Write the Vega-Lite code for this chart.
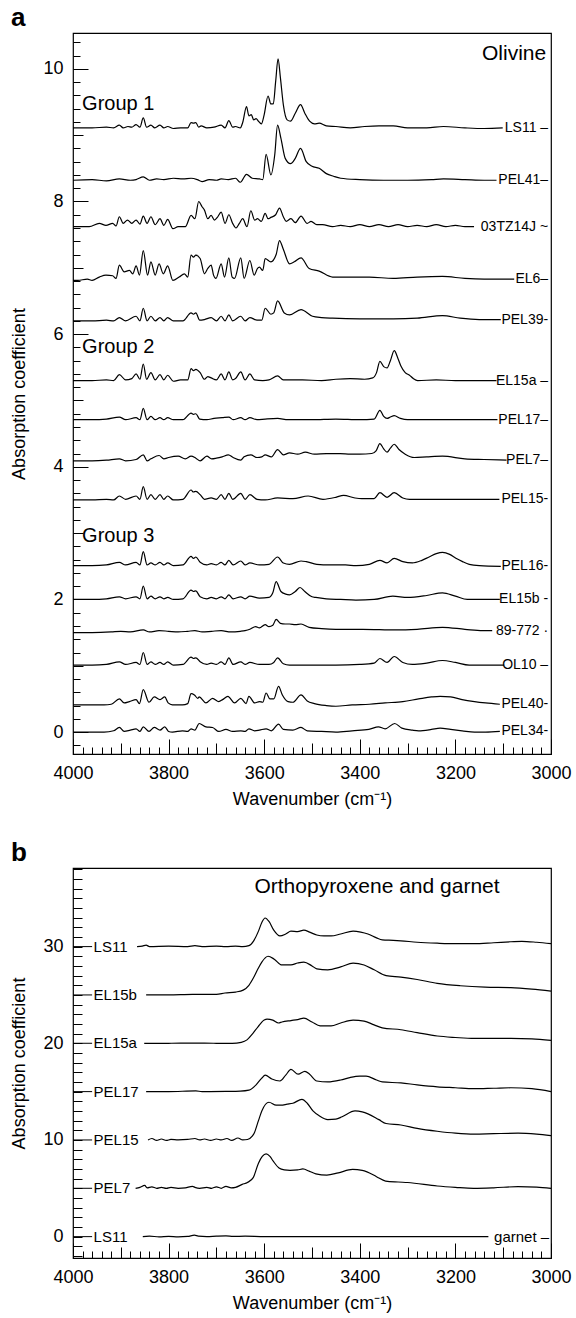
{
"$schema":"https://vega.github.io/schema/vega-lite/v6.json",
"background":"white",
"padding":{"left":10,"top":4,"right":2,"bottom":2},
"spacing":30,
"config":{
 "font":"Liberation Sans",
 "view":{"stroke":"#000","strokeWidth":1.2},
 "axis":{"domain":false,"grid":false,"tickColor":"#000","tickWidth":1,"labelColor":"#000","titleColor":"#000","labelFont":"Liberation Sans","titleFont":"Liberation Sans","labelFontSize":18,"titleFontSize":18,"titleFontWeight":"normal","labelFlush":false,"labelOverlap":false,"minExtent":0},
 "title":{"font":"Liberation Sans","fontSize":26,"fontWeight":"bold","anchor":"start","frame":"bounds","color":"#000"},
 "line":{"color":"#000","strokeWidth":1.2,"interpolate":"monotone"},
 "rule":{"color":"#000","strokeWidth":1},
 "text":{"color":"#000","font":"Liberation Sans"}
},
"datasets":{
"a1":[{"w":4000,"a":9.11},{"w":3960,"a":9.11},{"w":3930,"a":9.12},{"w":3915,"a":9.11},{"w":3903,"a":9.15},{"w":3895,"a":9.11},{"w":3885,"a":9.13},{"w":3877,"a":9.12},{"w":3868,"a":9.16},{"w":3860,"a":9.12},{"w":3853,"a":9.26},{"w":3846,"a":9.12},{"w":3837,"a":9.15},{"w":3829,"a":9.11},{"w":3818,"a":9.15},{"w":3810,"a":9.11},{"w":3802,"a":9.13},{"w":3790,"a":9.10},{"w":3775,"a":9.11},{"w":3760,"a":9.11},{"w":3753,"a":9.19},{"w":3748,"a":9.18},{"w":3743,"a":9.19},{"w":3737,"a":9.12},{"w":3732,"a":9.14},{"w":3720,"a":9.11},{"w":3705,"a":9.12},{"w":3690,"a":9.15},{"w":3682,"a":9.11},{"w":3674,"a":9.22},{"w":3666,"a":9.12},{"w":3660,"a":9.13},{"w":3650,"a":9.11},{"w":3645,"a":9.19},{"w":3637,"a":9.43},{"w":3632,"a":9.29},{"w":3627,"a":9.31},{"w":3622,"a":9.23},{"w":3617,"a":9.25},{"w":3612,"a":9.21},{"w":3606,"a":9.17},{"w":3600,"a":9.31},{"w":3592,"a":9.59},{"w":3586,"a":9.47},{"w":3581,"a":9.47},{"w":3576,"a":9.81},{"w":3571,"a":10.15},{"w":3566,"a":9.86},{"w":3560,"a":9.46},{"w":3552,"a":9.23},{"w":3545,"a":9.21},{"w":3535,"a":9.33},{"w":3524,"a":9.46},{"w":3515,"a":9.33},{"w":3505,"a":9.21},{"w":3495,"a":9.17},{"w":3485,"a":9.18},{"w":3470,"a":9.14},{"w":3450,"a":9.13},{"w":3420,"a":9.11},{"w":3390,"a":9.13},{"w":3360,"a":9.14},{"w":3330,"a":9.14},{"w":3300,"a":9.11},{"w":3260,"a":9.11},{"w":3225,"a":9.13},{"w":3180,"a":9.11},{"w":3140,"a":9.10},{"w":3101,"a":9.11}],
"a2":[{"w":4000,"a":8.32},{"w":3960,"a":8.33},{"w":3930,"a":8.31},{"w":3903,"a":8.34},{"w":3880,"a":8.32},{"w":3868,"a":8.33},{"w":3853,"a":8.37},{"w":3840,"a":8.32},{"w":3825,"a":8.34},{"w":3810,"a":8.33},{"w":3790,"a":8.35},{"w":3770,"a":8.34},{"w":3753,"a":8.35},{"w":3740,"a":8.33},{"w":3730,"a":8.30},{"w":3715,"a":8.33},{"w":3700,"a":8.32},{"w":3690,"a":8.34},{"w":3675,"a":8.33},{"w":3660,"a":8.35},{"w":3650,"a":8.29},{"w":3637,"a":8.41},{"w":3625,"a":8.35},{"w":3610,"a":8.34},{"w":3603,"a":8.33},{"w":3596,"a":8.71},{"w":3586,"a":8.40},{"w":3578,"a":8.70},{"w":3572,"a":9.15},{"w":3565,"a":8.95},{"w":3556,"a":8.65},{"w":3545,"a":8.57},{"w":3535,"a":8.65},{"w":3524,"a":8.80},{"w":3512,"a":8.60},{"w":3500,"a":8.53},{"w":3485,"a":8.50},{"w":3470,"a":8.42},{"w":3455,"a":8.38},{"w":3440,"a":8.35},{"w":3400,"a":8.33},{"w":3350,"a":8.32},{"w":3300,"a":8.32},{"w":3250,"a":8.33},{"w":3225,"a":8.34},{"w":3180,"a":8.33},{"w":3140,"a":8.32},{"w":3114,"a":8.32}],
"a3":[{"w":4000,"a":7.62},{"w":3994,"a":7.62},{"w":3966,"a":7.62},{"w":3945,"a":7.67},{"w":3931,"a":7.64},{"w":3917,"a":7.67},{"w":3910,"a":7.63},{"w":3903,"a":7.77},{"w":3895,"a":7.67},{"w":3886,"a":7.72},{"w":3877,"a":7.67},{"w":3868,"a":7.72},{"w":3860,"a":7.66},{"w":3853,"a":7.78},{"w":3845,"a":7.67},{"w":3837,"a":7.77},{"w":3828,"a":7.65},{"w":3818,"a":7.74},{"w":3810,"a":7.64},{"w":3802,"a":7.73},{"w":3791,"a":7.59},{"w":3780,"a":7.62},{"w":3765,"a":7.62},{"w":3753,"a":7.79},{"w":3745,"a":7.74},{"w":3737,"a":8.00},{"w":3730,"a":7.92},{"w":3725,"a":7.87},{"w":3718,"a":7.74},{"w":3711,"a":7.79},{"w":3704,"a":7.72},{"w":3698,"a":7.76},{"w":3690,"a":7.84},{"w":3682,"a":7.67},{"w":3674,"a":7.80},{"w":3666,"a":7.67},{"w":3659,"a":7.60},{"w":3652,"a":7.67},{"w":3645,"a":7.74},{"w":3636,"a":7.62},{"w":3628,"a":7.86},{"w":3620,"a":7.72},{"w":3614,"a":7.74},{"w":3606,"a":7.70},{"w":3598,"a":7.82},{"w":3592,"a":7.74},{"w":3586,"a":7.76},{"w":3576,"a":7.80},{"w":3568,"a":7.90},{"w":3560,"a":7.77},{"w":3554,"a":7.70},{"w":3544,"a":7.74},{"w":3535,"a":7.68},{"w":3523,"a":7.78},{"w":3510,"a":7.67},{"w":3502,"a":7.70},{"w":3490,"a":7.65},{"w":3478,"a":7.65},{"w":3457,"a":7.62},{"w":3440,"a":7.64},{"w":3420,"a":7.62},{"w":3400,"a":7.65},{"w":3380,"a":7.62},{"w":3360,"a":7.65},{"w":3340,"a":7.62},{"w":3320,"a":7.65},{"w":3300,"a":7.62},{"w":3280,"a":7.64},{"w":3260,"a":7.62},{"w":3240,"a":7.65},{"w":3220,"a":7.62},{"w":3200,"a":7.64},{"w":3180,"a":7.62},{"w":3161,"a":7.62}],
"a4":[{"w":4000,"a":6.81},{"w":3990,"a":6.81},{"w":3970,"a":6.83},{"w":3960,"a":6.81},{"w":3945,"a":6.86},{"w":3931,"a":6.89},{"w":3917,"a":6.88},{"w":3910,"a":6.84},{"w":3903,"a":7.04},{"w":3893,"a":6.94},{"w":3882,"a":6.96},{"w":3875,"a":6.91},{"w":3868,"a":7.03},{"w":3861,"a":6.89},{"w":3853,"a":7.26},{"w":3844,"a":6.89},{"w":3837,"a":7.09},{"w":3828,"a":6.89},{"w":3820,"a":7.06},{"w":3811,"a":6.91},{"w":3802,"a":7.03},{"w":3791,"a":6.81},{"w":3778,"a":6.86},{"w":3767,"a":6.91},{"w":3760,"a":6.86},{"w":3753,"a":7.19},{"w":3748,"a":7.16},{"w":3743,"a":7.19},{"w":3734,"a":7.14},{"w":3725,"a":6.91},{"w":3718,"a":6.99},{"w":3711,"a":7.04},{"w":3706,"a":6.89},{"w":3701,"a":6.84},{"w":3690,"a":7.06},{"w":3683,"a":6.86},{"w":3674,"a":7.15},{"w":3667,"a":6.86},{"w":3662,"a":6.84},{"w":3649,"a":7.15},{"w":3642,"a":6.84},{"w":3630,"a":7.11},{"w":3621,"a":6.89},{"w":3614,"a":6.99},{"w":3610,"a":7.01},{"w":3603,"a":6.96},{"w":3598,"a":7.14},{"w":3586,"a":7.09},{"w":3575,"a":7.20},{"w":3568,"a":7.41},{"w":3560,"a":7.28},{"w":3547,"a":7.06},{"w":3537,"a":7.09},{"w":3523,"a":7.15},{"w":3506,"a":6.99},{"w":3485,"a":6.95},{"w":3457,"a":6.86},{"w":3430,"a":6.86},{"w":3380,"a":6.86},{"w":3330,"a":6.84},{"w":3280,"a":6.86},{"w":3227,"a":6.87},{"w":3180,"a":6.84},{"w":3140,"a":6.83},{"w":3077,"a":6.83}],
"a5":[{"w":4000,"a":6.20},{"w":3960,"a":6.20},{"w":3930,"a":6.21},{"w":3915,"a":6.20},{"w":3903,"a":6.25},{"w":3890,"a":6.20},{"w":3868,"a":6.27},{"w":3860,"a":6.20},{"w":3853,"a":6.39},{"w":3845,"a":6.20},{"w":3837,"a":6.27},{"w":3828,"a":6.20},{"w":3818,"a":6.25},{"w":3810,"a":6.20},{"w":3802,"a":6.25},{"w":3790,"a":6.20},{"w":3770,"a":6.20},{"w":3753,"a":6.32},{"w":3748,"a":6.30},{"w":3743,"a":6.32},{"w":3735,"a":6.21},{"w":3725,"a":6.22},{"w":3711,"a":6.25},{"w":3700,"a":6.20},{"w":3690,"a":6.27},{"w":3682,"a":6.20},{"w":3674,"a":6.29},{"w":3666,"a":6.20},{"w":3649,"a":6.27},{"w":3640,"a":6.20},{"w":3630,"a":6.25},{"w":3615,"a":6.21},{"w":3605,"a":6.21},{"w":3598,"a":6.39},{"w":3586,"a":6.30},{"w":3580,"a":6.32},{"w":3572,"a":6.50},{"w":3558,"a":6.32},{"w":3547,"a":6.29},{"w":3523,"a":6.37},{"w":3499,"a":6.27},{"w":3480,"a":6.25},{"w":3457,"a":6.24},{"w":3400,"a":6.23},{"w":3330,"a":6.23},{"w":3280,"a":6.24},{"w":3227,"a":6.28},{"w":3190,"a":6.24},{"w":3150,"a":6.22},{"w":3105,"a":6.22}],
"a6":[{"w":4000,"a":5.30},{"w":3960,"a":5.30},{"w":3930,"a":5.31},{"w":3915,"a":5.30},{"w":3903,"a":5.39},{"w":3890,"a":5.31},{"w":3877,"a":5.33},{"w":3868,"a":5.40},{"w":3860,"a":5.32},{"w":3853,"a":5.55},{"w":3846,"a":5.32},{"w":3837,"a":5.42},{"w":3828,"a":5.31},{"w":3818,"a":5.39},{"w":3810,"a":5.31},{"w":3802,"a":5.38},{"w":3790,"a":5.29},{"w":3775,"a":5.31},{"w":3760,"a":5.31},{"w":3753,"a":5.48},{"w":3748,"a":5.45},{"w":3743,"a":5.47},{"w":3734,"a":5.42},{"w":3725,"a":5.32},{"w":3718,"a":5.36},{"w":3711,"a":5.34},{"w":3700,"a":5.31},{"w":3690,"a":5.40},{"w":3682,"a":5.31},{"w":3674,"a":5.43},{"w":3666,"a":5.31},{"w":3660,"a":5.33},{"w":3649,"a":5.43},{"w":3640,"a":5.31},{"w":3630,"a":5.40},{"w":3620,"a":5.31},{"w":3603,"a":5.30},{"w":3590,"a":5.31},{"w":3572,"a":5.37},{"w":3560,"a":5.31},{"w":3520,"a":5.31},{"w":3480,"a":5.30},{"w":3450,"a":5.32},{"w":3420,"a":5.33},{"w":3390,"a":5.32},{"w":3373,"a":5.34},{"w":3365,"a":5.42},{"w":3358,"a":5.59},{"w":3350,"a":5.51},{"w":3343,"a":5.49},{"w":3336,"a":5.60},{"w":3328,"a":5.75},{"w":3320,"a":5.63},{"w":3314,"a":5.52},{"w":3305,"a":5.42},{"w":3296,"a":5.38},{"w":3288,"a":5.33},{"w":3279,"a":5.30},{"w":3240,"a":5.31},{"w":3200,"a":5.30},{"w":3150,"a":5.30},{"w":3114,"a":5.30}],
"a7":[{"w":4000,"a":4.71},{"w":3960,"a":4.71},{"w":3930,"a":4.72},{"w":3903,"a":4.75},{"w":3890,"a":4.71},{"w":3868,"a":4.74},{"w":3860,"a":4.71},{"w":3853,"a":4.88},{"w":3845,"a":4.71},{"w":3837,"a":4.76},{"w":3828,"a":4.71},{"w":3818,"a":4.74},{"w":3810,"a":4.71},{"w":3802,"a":4.74},{"w":3790,"a":4.71},{"w":3770,"a":4.71},{"w":3753,"a":4.81},{"w":3748,"a":4.79},{"w":3743,"a":4.80},{"w":3735,"a":4.72},{"w":3720,"a":4.71},{"w":3705,"a":4.73},{"w":3688,"a":4.74},{"w":3674,"a":4.75},{"w":3665,"a":4.71},{"w":3649,"a":4.74},{"w":3640,"a":4.71},{"w":3630,"a":4.74},{"w":3615,"a":4.71},{"w":3598,"a":4.72},{"w":3572,"a":4.73},{"w":3550,"a":4.71},{"w":3500,"a":4.71},{"w":3450,"a":4.72},{"w":3400,"a":4.71},{"w":3370,"a":4.72},{"w":3358,"a":4.85},{"w":3350,"a":4.76},{"w":3343,"a":4.73},{"w":3336,"a":4.75},{"w":3328,"a":4.77},{"w":3315,"a":4.73},{"w":3300,"a":4.71},{"w":3250,"a":4.71},{"w":3200,"a":4.71},{"w":3150,"a":4.71},{"w":3112,"a":4.71}],
"a8":[{"w":4000,"a":4.09},{"w":3960,"a":4.09},{"w":3930,"a":4.10},{"w":3903,"a":4.12},{"w":3890,"a":4.09},{"w":3868,"a":4.11},{"w":3853,"a":4.18},{"w":3845,"a":4.09},{"w":3837,"a":4.12},{"w":3820,"a":4.17},{"w":3810,"a":4.12},{"w":3800,"a":4.14},{"w":3780,"a":4.16},{"w":3765,"a":4.12},{"w":3753,"a":4.16},{"w":3743,"a":4.13},{"w":3734,"a":4.09},{"w":3720,"a":4.16},{"w":3710,"a":4.12},{"w":3700,"a":4.13},{"w":3688,"a":4.15},{"w":3675,"a":4.18},{"w":3665,"a":4.14},{"w":3649,"a":4.10},{"w":3642,"a":4.15},{"w":3628,"a":4.18},{"w":3615,"a":4.14},{"w":3605,"a":4.15},{"w":3598,"a":4.18},{"w":3585,"a":4.15},{"w":3572,"a":4.26},{"w":3560,"a":4.18},{"w":3547,"a":4.21},{"w":3530,"a":4.19},{"w":3514,"a":4.22},{"w":3495,"a":4.19},{"w":3470,"a":4.20},{"w":3441,"a":4.20},{"w":3420,"a":4.19},{"w":3400,"a":4.19},{"w":3375,"a":4.20},{"w":3366,"a":4.24},{"w":3358,"a":4.35},{"w":3350,"a":4.27},{"w":3343,"a":4.22},{"w":3336,"a":4.28},{"w":3328,"a":4.34},{"w":3318,"a":4.26},{"w":3305,"a":4.19},{"w":3286,"a":4.14},{"w":3260,"a":4.15},{"w":3227,"a":4.16},{"w":3180,"a":4.12},{"w":3140,"a":4.11},{"w":3093,"a":4.10}],
"a9":[{"w":4000,"a":3.50},{"w":3960,"a":3.50},{"w":3930,"a":3.51},{"w":3915,"a":3.50},{"w":3903,"a":3.56},{"w":3890,"a":3.51},{"w":3868,"a":3.56},{"w":3860,"a":3.51},{"w":3853,"a":3.70},{"w":3845,"a":3.51},{"w":3837,"a":3.58},{"w":3828,"a":3.51},{"w":3818,"a":3.58},{"w":3810,"a":3.51},{"w":3802,"a":3.56},{"w":3790,"a":3.50},{"w":3770,"a":3.51},{"w":3753,"a":3.65},{"w":3748,"a":3.62},{"w":3743,"a":3.63},{"w":3734,"a":3.58},{"w":3725,"a":3.51},{"w":3711,"a":3.53},{"w":3700,"a":3.51},{"w":3690,"a":3.58},{"w":3682,"a":3.51},{"w":3674,"a":3.60},{"w":3666,"a":3.51},{"w":3649,"a":3.60},{"w":3640,"a":3.51},{"w":3630,"a":3.58},{"w":3615,"a":3.51},{"w":3598,"a":3.50},{"w":3572,"a":3.53},{"w":3540,"a":3.52},{"w":3508,"a":3.56},{"w":3477,"a":3.51},{"w":3450,"a":3.54},{"w":3434,"a":3.57},{"w":3410,"a":3.53},{"w":3396,"a":3.52},{"w":3370,"a":3.52},{"w":3358,"a":3.61},{"w":3343,"a":3.54},{"w":3328,"a":3.61},{"w":3310,"a":3.53},{"w":3296,"a":3.51},{"w":3254,"a":3.51},{"w":3185,"a":3.51},{"w":3108,"a":3.51}],
"a10":[{"w":4000,"a":2.51},{"w":3960,"a":2.51},{"w":3930,"a":2.52},{"w":3903,"a":2.56},{"w":3890,"a":2.52},{"w":3868,"a":2.56},{"w":3860,"a":2.52},{"w":3853,"a":2.72},{"w":3845,"a":2.52},{"w":3837,"a":2.55},{"w":3828,"a":2.52},{"w":3818,"a":2.56},{"w":3810,"a":2.52},{"w":3802,"a":2.55},{"w":3790,"a":2.51},{"w":3770,"a":2.52},{"w":3753,"a":2.65},{"w":3748,"a":2.62},{"w":3743,"a":2.64},{"w":3734,"a":2.56},{"w":3720,"a":2.52},{"w":3711,"a":2.54},{"w":3700,"a":2.52},{"w":3690,"a":2.56},{"w":3682,"a":2.52},{"w":3674,"a":2.59},{"w":3665,"a":2.52},{"w":3649,"a":2.58},{"w":3640,"a":2.52},{"w":3630,"a":2.55},{"w":3610,"a":2.52},{"w":3590,"a":2.53},{"w":3572,"a":2.64},{"w":3560,"a":2.55},{"w":3547,"a":2.53},{"w":3523,"a":2.58},{"w":3512,"a":2.57},{"w":3490,"a":2.53},{"w":3463,"a":2.52},{"w":3430,"a":2.52},{"w":3408,"a":2.51},{"w":3380,"a":2.53},{"w":3358,"a":2.59},{"w":3343,"a":2.55},{"w":3328,"a":2.62},{"w":3310,"a":2.57},{"w":3290,"a":2.55},{"w":3270,"a":2.59},{"w":3255,"a":2.64},{"w":3240,"a":2.69},{"w":3227,"a":2.71},{"w":3212,"a":2.68},{"w":3199,"a":2.62},{"w":3185,"a":2.57},{"w":3171,"a":2.53},{"w":3150,"a":2.51},{"w":3105,"a":2.50}],
"a11":[{"w":4000,"a":2.00},{"w":3960,"a":2.00},{"w":3930,"a":2.01},{"w":3903,"a":2.04},{"w":3890,"a":2.01},{"w":3868,"a":2.04},{"w":3860,"a":2.01},{"w":3853,"a":2.20},{"w":3845,"a":2.01},{"w":3837,"a":2.05},{"w":3828,"a":2.01},{"w":3818,"a":2.04},{"w":3810,"a":2.01},{"w":3802,"a":2.03},{"w":3790,"a":2.00},{"w":3770,"a":2.01},{"w":3753,"a":2.14},{"w":3748,"a":2.12},{"w":3743,"a":2.13},{"w":3734,"a":2.04},{"w":3720,"a":2.01},{"w":3711,"a":2.03},{"w":3700,"a":2.01},{"w":3690,"a":2.04},{"w":3682,"a":2.01},{"w":3674,"a":2.07},{"w":3665,"a":2.01},{"w":3649,"a":2.04},{"w":3640,"a":2.01},{"w":3630,"a":2.05},{"w":3610,"a":2.02},{"w":3590,"a":2.03},{"w":3582,"a":2.10},{"w":3575,"a":2.27},{"w":3565,"a":2.12},{"w":3555,"a":2.08},{"w":3547,"a":2.07},{"w":3535,"a":2.12},{"w":3525,"a":2.18},{"w":3515,"a":2.12},{"w":3500,"a":2.04},{"w":3492,"a":2.03},{"w":3470,"a":2.01},{"w":3440,"a":2.00},{"w":3408,"a":1.99},{"w":3370,"a":2.00},{"w":3331,"a":2.05},{"w":3300,"a":2.03},{"w":3260,"a":2.06},{"w":3227,"a":2.10},{"w":3200,"a":2.05},{"w":3175,"a":2.00},{"w":3140,"a":2.00},{"w":3107,"a":2.00}],
"a12":[{"w":4000,"a":1.50},{"w":3960,"a":1.50},{"w":3920,"a":1.51},{"w":3900,"a":1.52},{"w":3880,"a":1.51},{"w":3853,"a":1.54},{"w":3840,"a":1.51},{"w":3820,"a":1.53},{"w":3800,"a":1.52},{"w":3780,"a":1.51},{"w":3760,"a":1.52},{"w":3745,"a":1.53},{"w":3730,"a":1.51},{"w":3710,"a":1.52},{"w":3690,"a":1.53},{"w":3670,"a":1.51},{"w":3650,"a":1.52},{"w":3640,"a":1.53},{"w":3630,"a":1.55},{"w":3618,"a":1.59},{"w":3610,"a":1.57},{"w":3598,"a":1.62},{"w":3590,"a":1.59},{"w":3582,"a":1.61},{"w":3575,"a":1.70},{"w":3566,"a":1.64},{"w":3556,"a":1.63},{"w":3547,"a":1.63},{"w":3535,"a":1.62},{"w":3523,"a":1.63},{"w":3506,"a":1.58},{"w":3480,"a":1.56},{"w":3450,"a":1.55},{"w":3394,"a":1.55},{"w":3324,"a":1.54},{"w":3280,"a":1.55},{"w":3227,"a":1.58},{"w":3180,"a":1.55},{"w":3143,"a":1.53},{"w":3123,"a":1.53}],
"a13":[{"w":4000,"a":1.01},{"w":3960,"a":1.01},{"w":3930,"a":1.02},{"w":3903,"a":1.06},{"w":3890,"a":1.02},{"w":3868,"a":1.05},{"w":3860,"a":1.02},{"w":3853,"a":1.20},{"w":3845,"a":1.02},{"w":3837,"a":1.06},{"w":3828,"a":1.02},{"w":3818,"a":1.05},{"w":3810,"a":1.02},{"w":3802,"a":1.06},{"w":3790,"a":1.01},{"w":3770,"a":1.02},{"w":3753,"a":1.13},{"w":3748,"a":1.11},{"w":3743,"a":1.12},{"w":3734,"a":1.06},{"w":3720,"a":1.02},{"w":3711,"a":1.04},{"w":3700,"a":1.02},{"w":3690,"a":1.06},{"w":3682,"a":1.02},{"w":3674,"a":1.12},{"w":3665,"a":1.02},{"w":3649,"a":1.06},{"w":3640,"a":1.02},{"w":3630,"a":1.05},{"w":3610,"a":1.02},{"w":3590,"a":1.02},{"w":3580,"a":1.05},{"w":3572,"a":1.12},{"w":3560,"a":1.03},{"w":3547,"a":1.01},{"w":3500,"a":1.01},{"w":3450,"a":1.01},{"w":3400,"a":1.02},{"w":3370,"a":1.04},{"w":3358,"a":1.11},{"w":3343,"a":1.05},{"w":3328,"a":1.14},{"w":3310,"a":1.05},{"w":3290,"a":1.02},{"w":3260,"a":1.04},{"w":3227,"a":1.08},{"w":3200,"a":1.05},{"w":3171,"a":1.01},{"w":3140,"a":1.01},{"w":3098,"a":1.01}],
"a14":[{"w":4000,"a":0.41},{"w":3960,"a":0.41},{"w":3935,"a":0.41},{"w":3920,"a":0.42},{"w":3903,"a":0.50},{"w":3893,"a":0.44},{"w":3882,"a":0.46},{"w":3868,"a":0.49},{"w":3861,"a":0.43},{"w":3853,"a":0.64},{"w":3841,"a":0.45},{"w":3830,"a":0.53},{"w":3818,"a":0.49},{"w":3808,"a":0.53},{"w":3801,"a":0.44},{"w":3792,"a":0.41},{"w":3771,"a":0.41},{"w":3760,"a":0.43},{"w":3753,"a":0.58},{"w":3746,"a":0.56},{"w":3739,"a":0.51},{"w":3736,"a":0.53},{"w":3722,"a":0.44},{"w":3708,"a":0.51},{"w":3695,"a":0.46},{"w":3687,"a":0.49},{"w":3676,"a":0.54},{"w":3662,"a":0.44},{"w":3649,"a":0.51},{"w":3638,"a":0.43},{"w":3632,"a":0.54},{"w":3620,"a":0.44},{"w":3610,"a":0.46},{"w":3603,"a":0.45},{"w":3596,"a":0.59},{"w":3588,"a":0.50},{"w":3580,"a":0.50},{"w":3570,"a":0.69},{"w":3562,"a":0.56},{"w":3550,"a":0.46},{"w":3540,"a":0.45},{"w":3523,"a":0.56},{"w":3510,"a":0.47},{"w":3495,"a":0.43},{"w":3470,"a":0.40},{"w":3450,"a":0.39},{"w":3416,"a":0.41},{"w":3380,"a":0.42},{"w":3347,"a":0.44},{"w":3310,"a":0.46},{"w":3277,"a":0.50},{"w":3250,"a":0.53},{"w":3232,"a":0.54},{"w":3210,"a":0.53},{"w":3186,"a":0.49},{"w":3160,"a":0.46},{"w":3137,"a":0.44},{"w":3107,"a":0.42}],
"a15":[{"w":4000,"a":0.00},{"w":3960,"a":0.00},{"w":3935,"a":0.00},{"w":3915,"a":0.02},{"w":3903,"a":0.07},{"w":3893,"a":0.01},{"w":3880,"a":0.03},{"w":3868,"a":0.05},{"w":3860,"a":0.01},{"w":3853,"a":0.08},{"w":3841,"a":0.01},{"w":3830,"a":0.07},{"w":3818,"a":0.03},{"w":3808,"a":0.08},{"w":3800,"a":0.01},{"w":3792,"a":0.00},{"w":3771,"a":0.02},{"w":3760,"a":0.01},{"w":3753,"a":0.05},{"w":3745,"a":0.03},{"w":3736,"a":0.13},{"w":3722,"a":0.08},{"w":3708,"a":0.07},{"w":3695,"a":0.01},{"w":3680,"a":0.04},{"w":3666,"a":0.01},{"w":3649,"a":0.02},{"w":3640,"a":0.01},{"w":3632,"a":0.05},{"w":3620,"a":0.02},{"w":3610,"a":0.03},{"w":3596,"a":0.05},{"w":3585,"a":0.02},{"w":3570,"a":0.12},{"w":3560,"a":0.04},{"w":3540,"a":0.03},{"w":3523,"a":0.07},{"w":3510,"a":0.02},{"w":3480,"a":0.01},{"w":3450,"a":0.00},{"w":3416,"a":0.02},{"w":3381,"a":0.04},{"w":3361,"a":0.08},{"w":3347,"a":0.05},{"w":3327,"a":0.13},{"w":3312,"a":0.06},{"w":3290,"a":0.03},{"w":3277,"a":0.02},{"w":3250,"a":0.04},{"w":3232,"a":0.06},{"w":3210,"a":0.04},{"w":3186,"a":0.02},{"w":3160,"a":0.00},{"w":3137,"a":0.00},{"w":3107,"a":0.01}],
"alab":[{"w":3006,"a":9.11,"t":"LS11 –"},{"w":3006,"a":8.32,"t":"PEL41–"},{"w":3006,"a":7.62,"t":"03TZ14J ~"},{"w":3006,"a":6.83,"t":"EL6–"},{"w":3006,"a":6.22,"t":"PEL39-"},{"w":3006,"a":5.30,"t":"EL15a –"},{"w":3006,"a":4.71,"t":"PEL17–"},{"w":3006,"a":4.10,"t":"PEL7–"},{"w":3006,"a":3.51,"t":"PEL15-"},{"w":3006,"a":2.50,"t":"PEL16-"},{"w":3006,"a":2.00,"t":"EL15b -"},{"w":3006,"a":1.53,"t":"89-772  ·"},{"w":3006,"a":1.01,"t":"OL10 –"},{"w":3006,"a":0.42,"t":"PEL40-"},{"w":3006,"a":0.01,"t":"PEL34-"}],
"agrp":[{"w":3981,"a":9.47,"t":"Group 1"},{"w":3981,"a":5.80,"t":"Group 2"},{"w":3981,"a":2.96,"t":"Group 3"}],
"aolv":[{"w":3010,"a":10.23,"t":"Olivine"}],
"b1":[{"w":3866,"a":30.0},{"w":3855,"a":30.05},{"w":3847,"a":30.15},{"w":3840,"a":30.0},{"w":3800,"a":30.05},{"w":3760,"a":30.0},{"w":3745,"a":30.1},{"w":3730,"a":30.0},{"w":3700,"a":30.05},{"w":3680,"a":30.0},{"w":3660,"a":30.05},{"w":3645,"a":30.0},{"w":3632,"a":30.1},{"w":3622,"a":30.6},{"w":3612,"a":31.6},{"w":3605,"a":32.5},{"w":3598,"a":32.96},{"w":3590,"a":32.6},{"w":3580,"a":31.7},{"w":3567,"a":31.1},{"w":3555,"a":31.3},{"w":3544,"a":31.6},{"w":3530,"a":31.55},{"w":3517,"a":31.7},{"w":3505,"a":31.5},{"w":3490,"a":31.2},{"w":3475,"a":31.1},{"w":3460,"a":31.1},{"w":3440,"a":31.3},{"w":3414,"a":31.6},{"w":3398,"a":31.5},{"w":3383,"a":31.3},{"w":3365,"a":30.9},{"w":3353,"a":30.7},{"w":3330,"a":30.65},{"w":3314,"a":30.6},{"w":3280,"a":30.45},{"w":3238,"a":30.35},{"w":3200,"a":30.3},{"w":3161,"a":30.3},{"w":3120,"a":30.4},{"w":3084,"a":30.5},{"w":3061,"a":30.55},{"w":3030,"a":30.45},{"w":3000,"a":30.3}],
"b2":[{"w":3847,"a":25.0},{"w":3800,"a":25.0},{"w":3750,"a":25.05},{"w":3700,"a":25.05},{"w":3682,"a":25.2},{"w":3660,"a":25.3},{"w":3644,"a":25.5},{"w":3632,"a":26.0},{"w":3621,"a":26.9},{"w":3613,"a":27.7},{"w":3605,"a":28.4},{"w":3592,"a":29.0},{"w":3579,"a":28.7},{"w":3563,"a":28.1},{"w":3544,"a":28.1},{"w":3530,"a":28.3},{"w":3517,"a":28.4},{"w":3500,"a":28.0},{"w":3490,"a":27.7},{"w":3467,"a":27.6},{"w":3440,"a":27.9},{"w":3414,"a":28.3},{"w":3391,"a":28.1},{"w":3370,"a":27.6},{"w":3345,"a":27.0},{"w":3314,"a":26.85},{"w":3280,"a":26.6},{"w":3238,"a":26.2},{"w":3190,"a":25.95},{"w":3138,"a":25.8},{"w":3084,"a":25.75},{"w":3040,"a":25.6},{"w":3000,"a":25.4}],
"b3":[{"w":3851,"a":20.0},{"w":3800,"a":20.0},{"w":3750,"a":20.02},{"w":3700,"a":20.0},{"w":3667,"a":20.0},{"w":3648,"a":20.1},{"w":3636,"a":20.35},{"w":3624,"a":21.0},{"w":3613,"a":21.7},{"w":3600,"a":22.4},{"w":3594,"a":22.5},{"w":3582,"a":22.4},{"w":3570,"a":22.1},{"w":3563,"a":22.2},{"w":3544,"a":22.35},{"w":3530,"a":22.45},{"w":3517,"a":22.6},{"w":3500,"a":22.2},{"w":3483,"a":21.8},{"w":3460,"a":21.8},{"w":3440,"a":22.1},{"w":3414,"a":22.4},{"w":3391,"a":22.3},{"w":3370,"a":21.9},{"w":3353,"a":21.6},{"w":3314,"a":21.4},{"w":3280,"a":21.1},{"w":3238,"a":20.75},{"w":3200,"a":20.6},{"w":3161,"a":20.5},{"w":3084,"a":20.5},{"w":3040,"a":20.45},{"w":3000,"a":20.3}],
"b4":[{"w":3847,"a":15.0},{"w":3800,"a":15.0},{"w":3743,"a":15.08},{"w":3730,"a":15.0},{"w":3680,"a":15.02},{"w":3650,"a":15.05},{"w":3632,"a":15.15},{"w":3617,"a":15.7},{"w":3605,"a":16.4},{"w":3598,"a":16.7},{"w":3584,"a":16.3},{"w":3567,"a":16.1},{"w":3555,"a":16.7},{"w":3544,"a":17.3},{"w":3529,"a":16.8},{"w":3515,"a":17.1},{"w":3505,"a":16.8},{"w":3490,"a":16.1},{"w":3467,"a":16.0},{"w":3440,"a":16.2},{"w":3421,"a":16.45},{"w":3400,"a":16.6},{"w":3387,"a":16.6},{"w":3365,"a":16.2},{"w":3353,"a":16.0},{"w":3314,"a":15.9},{"w":3280,"a":15.7},{"w":3238,"a":15.5},{"w":3200,"a":15.4},{"w":3161,"a":15.3},{"w":3120,"a":15.35},{"w":3084,"a":15.4},{"w":3040,"a":15.3},{"w":3000,"a":15.0}],
"b5":[{"w":3843,"a":10.0},{"w":3835,"a":10.15},{"w":3825,"a":9.95},{"w":3815,"a":10.1},{"w":3805,"a":9.95},{"w":3795,"a":10.05},{"w":3780,"a":10.0},{"w":3760,"a":10.05},{"w":3745,"a":10.15},{"w":3735,"a":10.0},{"w":3725,"a":10.1},{"w":3712,"a":9.95},{"w":3700,"a":10.1},{"w":3690,"a":10.0},{"w":3678,"a":10.15},{"w":3668,"a":9.95},{"w":3655,"a":10.2},{"w":3645,"a":10.0},{"w":3635,"a":10.05},{"w":3625,"a":10.4},{"w":3621,"a":10.7},{"w":3612,"a":12.0},{"w":3605,"a":13.0},{"w":3590,"a":13.9},{"w":3575,"a":13.6},{"w":3565,"a":13.6},{"w":3552,"a":13.7},{"w":3540,"a":13.8},{"w":3521,"a":14.2},{"w":3510,"a":13.8},{"w":3498,"a":13.0},{"w":3485,"a":12.5},{"w":3467,"a":12.1},{"w":3450,"a":12.15},{"w":3437,"a":12.4},{"w":3410,"a":13.0},{"w":3395,"a":12.9},{"w":3383,"a":12.7},{"w":3360,"a":12.1},{"w":3345,"a":11.7},{"w":3314,"a":11.55},{"w":3280,"a":11.2},{"w":3238,"a":10.9},{"w":3200,"a":10.7},{"w":3161,"a":10.6},{"w":3120,"a":10.65},{"w":3069,"a":10.7},{"w":3030,"a":10.6},{"w":3000,"a":10.45}],
"b6":[{"w":3869,"a":5.0},{"w":3860,"a":5.1},{"w":3850,"a":5.3},{"w":3845,"a":5.05},{"w":3835,"a":5.15},{"w":3825,"a":5.0},{"w":3815,"a":5.1},{"w":3805,"a":5.0},{"w":3795,"a":5.1},{"w":3780,"a":5.0},{"w":3765,"a":5.05},{"w":3750,"a":5.2},{"w":3745,"a":5.1},{"w":3735,"a":5.0},{"w":3720,"a":5.1},{"w":3710,"a":5.0},{"w":3700,"a":5.15},{"w":3690,"a":5.0},{"w":3680,"a":5.2},{"w":3669,"a":5.05},{"w":3660,"a":5.1},{"w":3646,"a":5.4},{"w":3635,"a":5.6},{"w":3623,"a":6.1},{"w":3612,"a":7.6},{"w":3604,"a":8.3},{"w":3596,"a":8.56},{"w":3588,"a":8.3},{"w":3581,"a":7.8},{"w":3569,"a":7.1},{"w":3558,"a":6.9},{"w":3546,"a":6.85},{"w":3530,"a":6.9},{"w":3519,"a":7.0},{"w":3505,"a":6.75},{"w":3492,"a":6.5},{"w":3469,"a":6.37},{"w":3445,"a":6.6},{"w":3415,"a":6.95},{"w":3395,"a":6.85},{"w":3385,"a":6.7},{"w":3365,"a":6.2},{"w":3346,"a":5.75},{"w":3320,"a":5.65},{"w":3300,"a":5.6},{"w":3238,"a":5.24},{"w":3200,"a":5.1},{"w":3162,"a":5.0},{"w":3120,"a":5.05},{"w":3069,"a":5.17},{"w":3030,"a":5.12},{"w":3000,"a":5.0}],
"b7":[{"w":3854,"a":0.0},{"w":3840,"a":0.05},{"w":3820,"a":-0.02},{"w":3800,"a":0.02},{"w":3780,"a":-0.02},{"w":3760,"a":0.02},{"w":3746,"a":0.15},{"w":3738,"a":0.05},{"w":3720,"a":0.0},{"w":3700,"a":0.05},{"w":3680,"a":0.08},{"w":3665,"a":0.02},{"w":3640,"a":0.05},{"w":3600,"a":0.0},{"w":3500,"a":0.0},{"w":3400,"a":0.0},{"w":3300,"a":0.0},{"w":3200,"a":0.0},{"w":3131,"a":0.0}],
"blab":[{"w":3957,"a":30,"t":"LS11"},{"w":3957,"a":25,"t":"EL15b"},{"w":3957,"a":20,"t":"EL15a"},{"w":3957,"a":15,"t":"PEL17"},{"w":3957,"a":10,"t":"PEL15"},{"w":3957,"a":5,"t":"PEL7"},{"w":3957,"a":0,"t":"LS11"}],
"bgar":[{"w":3004,"a":0,"t":"garnet –"}],
"bttl":[{"w":3364,"a":36.2,"t":"Orthopyroxene and garnet"}]
},
"vconcat":[
{
 "width":478,"height":721,
 "title":{"text":"a","offset":2},
 "encoding":{
  "x":{"field":"w","type":"quantitative","scale":{"domain":[3000,4000],"reverse":true,"nice":false,"zero":false},"axis":null},
  "y":{"field":"a","type":"quantitative","scale":{"domain":[-0.33,10.54],"nice":false,"zero":false},"axis":null}
 },
 "layer":[
  {"data":{"name":"a1"},"mark":"line","encoding":{
   "x":{"field":"w","type":"quantitative","scale":{"domain":[3000,4000],"reverse":true,"nice":false,"zero":false},"axis":{"orient":"bottom","values":[4000,3800,3600,3400,3200,3000],"format":"d","tickSize":-15,"labelPadding":25,"title":"Wavenumber (cm⁻¹)","titlePadding":8}},
   "y":{"field":"a","type":"quantitative","scale":{"domain":[-0.33,10.54],"nice":false,"zero":false},"axis":{"orient":"left","values":[0,2,4,6,8,10],"format":"d","tickSize":-15,"labelPadding":25,"title":"Absorption coefficient","titlePadding":14}}}},
  {"data":{"name":"a2"},"mark":"line","encoding":{
   "x":{"field":"w","type":"quantitative","scale":{"domain":[3000,4000],"reverse":true,"nice":false,"zero":false},"axis":{"orient":"bottom","values":[3900,3700,3500,3300,3100],"tickSize":-11,"labels":false,"title":null}},
   "y":{"field":"a","type":"quantitative","scale":{"domain":[-0.33,10.54],"nice":false,"zero":false},"axis":{"orient":"left","values":[1,3,5,7,9],"tickSize":-10,"labels":false,"title":null}}}},
  {"data":{"name":"a3"},"mark":"line","encoding":{
   "x":{"field":"w","type":"quantitative","scale":{"domain":[3000,4000],"reverse":true,"nice":false,"zero":false},"axis":{"orient":"bottom","values":[3000,3020,3040,3060,3080,3120,3140,3160,3180,3220,3240,3260,3280,3320,3340,3360,3380,3420,3440,3460,3480,3520,3540,3560,3580,3620,3640,3660,3680,3720,3740,3760,3780,3820,3840,3860,3880,3920,3940,3960,3980],"tickSize":-7,"labels":false,"title":null}},
   "y":{"field":"a","type":"quantitative","scale":{"domain":[-0.33,10.54],"nice":false,"zero":false},"axis":{"orient":"left","values":[-0.2,0.2,0.4,0.6,0.8,1.2,1.4,1.6,1.8,2.2,2.4,2.6,2.8,3.2,3.4,3.6,3.8,4.2,4.4,4.6,4.8,5.2,5.4,5.6,5.8,6.2,6.4,6.6,6.8,7.2,7.4,7.6,7.8,8.2,8.4,8.6,8.8,9.2,9.4,9.6,9.8,10.2,10.4],"tickSize":-7,"labels":false,"title":null}}}},
  {"data":{"name":"a4"},"mark":"line"},
  {"data":{"name":"a5"},"mark":"line"},
  {"data":{"name":"a6"},"mark":"line"},
  {"data":{"name":"a7"},"mark":"line"},
  {"data":{"name":"a8"},"mark":"line"},
  {"data":{"name":"a9"},"mark":"line"},
  {"data":{"name":"a10"},"mark":"line"},
  {"data":{"name":"a11"},"mark":"line"},
  {"data":{"name":"a12"},"mark":"line"},
  {"data":{"name":"a13"},"mark":"line"},
  {"data":{"name":"a14"},"mark":"line"},
  {"data":{"name":"a15"},"mark":"line"},
  {"data":{"name":"alab"},"mark":{"type":"text","align":"right","baseline":"middle","fontSize":14},"encoding":{"text":{"field":"t"}}},
  {"data":{"name":"agrp"},"mark":{"type":"text","align":"left","baseline":"middle","fontSize":20},"encoding":{"text":{"field":"t"}}},
  {"data":{"name":"aolv"},"mark":{"type":"text","align":"right","baseline":"middle","fontSize":21},"encoding":{"text":{"field":"t"}}}
 ],
 "resolve":{"axis":{"x":"independent","y":"independent"}}
},
{
 "width":478,"height":390,
 "title":{"text":"b","offset":2},
 "encoding":{
  "x":{"field":"w","type":"quantitative","scale":{"domain":[3000,4000],"reverse":true,"nice":false,"zero":false},"axis":null},
  "y":{"field":"a","type":"quantitative","scale":{"domain":[-2.21,38.13],"nice":false,"zero":false},"axis":null}
 },
 "layer":[
  {"data":{"name":"b1"},"mark":"line","encoding":{
   "x":{"field":"w","type":"quantitative","scale":{"domain":[3000,4000],"reverse":true,"nice":false,"zero":false},"axis":{"orient":"bottom","values":[4000,3800,3600,3400,3200,3000],"format":"d","tickSize":-15,"labelPadding":25,"title":"Wavenumber (cm⁻¹)","titlePadding":8}},
   "y":{"field":"a","type":"quantitative","scale":{"domain":[-2.21,38.13],"nice":false,"zero":false},"axis":{"orient":"left","values":[0,10,20,30],"format":"d","tickSize":-9,"labelPadding":19,"title":"Absorption coefficient","titlePadding":14}}}},
  {"data":{"name":"b2"},"mark":"line","encoding":{
   "x":{"field":"w","type":"quantitative","scale":{"domain":[3000,4000],"reverse":true,"nice":false,"zero":false},"axis":{"orient":"bottom","values":[3900,3700,3500,3300,3100],"tickSize":-11,"labels":false,"title":null}},
   "y":{"field":"a","type":"quantitative","scale":{"domain":[-2.21,38.13],"nice":false,"zero":false},"axis":{"orient":"left","values":[-2,-1,1,2,3,4,5,6,7,8,9,11,12,13,14,15,16,17,18,19,21,22,23,24,25,26,27,28,29,31,32,33,34,35,36,37,38],"tickSize":-9,"labels":false,"title":null}}}},
  {"data":{"name":"b3"},"mark":"line","encoding":{
   "x":{"field":"w","type":"quantitative","scale":{"domain":[3000,4000],"reverse":true,"nice":false,"zero":false},"axis":{"orient":"bottom","values":[3000,3020,3040,3060,3080,3120,3140,3160,3180,3220,3240,3260,3280,3320,3340,3360,3380,3420,3440,3460,3480,3520,3540,3560,3580,3620,3640,3660,3680,3720,3740,3760,3780,3820,3840,3860,3880,3920,3940,3960,3980],"tickSize":-7,"labels":false,"title":null}}}},
  {"data":{"name":"b4"},"mark":"line"},
  {"data":{"name":"b5"},"mark":"line"},
  {"data":{"name":"b6"},"mark":"line"},
  {"data":{"name":"b7"},"mark":"line"},
  {"data":{"name":"blab"},"mark":"rule","encoding":{"x":{"datum":4000,"type":"quantitative"},"x2":{"datum":3960}}},
  {"data":{"name":"blab"},"mark":{"type":"text","align":"left","baseline":"middle","fontSize":15},"encoding":{"text":{"field":"t"}}},
  {"data":{"name":"bgar"},"mark":{"type":"text","align":"right","baseline":"middle","fontSize":15},"encoding":{"text":{"field":"t"}}},
  {"data":{"name":"bttl"},"mark":{"type":"text","align":"center","baseline":"middle","fontSize":21},"encoding":{"text":{"field":"t"}}}
 ],
 "resolve":{"axis":{"x":"independent","y":"independent"}}
}
]
}
